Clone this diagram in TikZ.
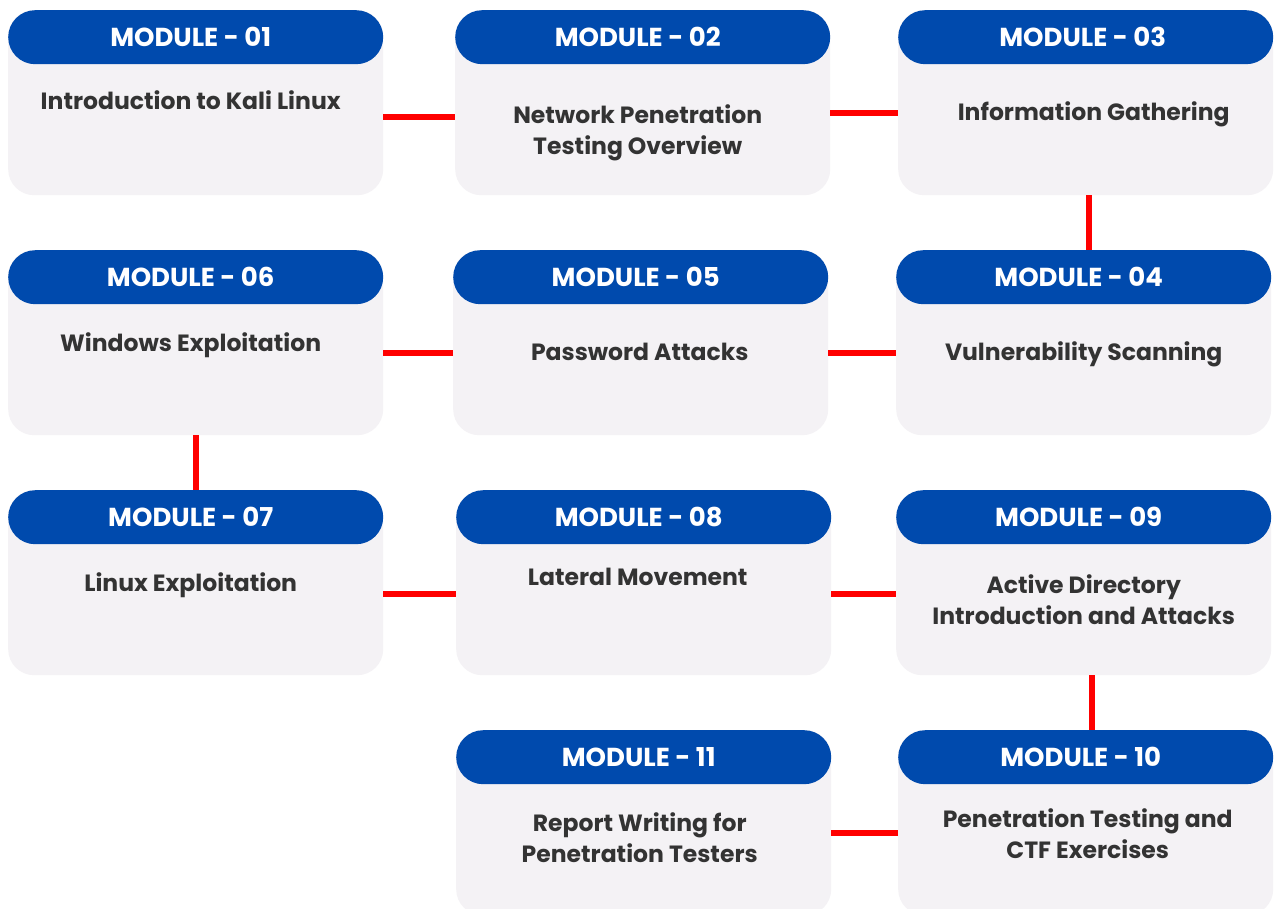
\documentclass[tikz,border=0pt]{standalone}
\usepackage{fontspec}
\setmainfont{Poppins}
\usepackage{tikz}
\usetikzlibrary{positioning}
\definecolor{hdblue}{HTML}{004AAD}
\definecolor{boxgray}{HTML}{F4F2F5}
\definecolor{txtgray}{HTML}{333333}
\definecolor{linkred}{HTML}{FF0000}

\begin{document}
\begin{tikzpicture}[x=1pt, y=-1pt]
\tikzstyle{body}=[fill=boxgray, rounded corners=26pt, minimum width=375pt, minimum height=185pt, anchor=north west, inner sep=0pt];
\tikzstyle{head}=[fill=hdblue, rounded corners=27pt, minimum width=375pt, minimum height=54pt, anchor=north west, inner sep=0pt];
\tikzstyle{headtext}=[text=white, inner sep=0pt, font=\bfseries\fontsize{26}{28}\selectfont];
\tikzstyle{modtext}=[align=center, text=txtgray, inner sep=0pt, font=\bfseries\fontsize{23.5}{31}\selectfont];
\tikzstyle{link}=[draw=linkred, line width=6pt];
\useasboundingbox (0,0) rectangle (1274,908);
\clip (0,0) rectangle (1274,908);
\fill[white] (0,0) rectangle (1274,908);
\path (8,10) node[body] (B1) {};
\path (455,10) node[body] (B2) {};
\path (898,10) node[body] (B3) {};
\path (8,250) node[body] (B6) {};
\path (453,250) node[body] (B5) {};
\path (896,250) node[body] (B4) {};
\path (8,490) node[body] (B7) {};
\path (456,490) node[body] (B8) {};
\path (896,490) node[body] (B9) {};
\path (456,730) node[body] (B11) {};
\path (898,730) node[body] (B10) {};
\path (B1.north west) node[head] (H1) {};
\path (B2.north west) node[head] (H2) {};
\path (B3.north west) node[head] (H3) {};
\path (B4.north west) node[head] (H4) {};
\path (B5.north west) node[head] (H5) {};
\path (B6.north west) node[head] (H6) {};
\path (B7.north west) node[head] (H7) {};
\path (B8.north west) node[head] (H8) {};
\path (B9.north west) node[head] (H9) {};
\path (B10.north west) node[head] (H10) {};
\path (B11.north west) node[head] (H11) {};
\path (H1.center) ++(-5,0) node[headtext] (N1) {MODULE - 01};
\path (H2.center) ++(-5,0) node[headtext] (N2) {MODULE - 02};
\path (H3.center) ++(-3,0) node[headtext] (N3) {MODULE - 03};
\path (H4.center) ++(-5,0) node[headtext] (N4) {MODULE - 04};
\path (H5.center) ++(-5,0) node[headtext] (N5) {MODULE - 05};
\path (H6.center) ++(-5,0) node[headtext] (N6) {MODULE - 06};
\path (H7.center) ++(-5,0) node[headtext] (N7) {MODULE - 07};
\path (H8.center) ++(-5,0) node[headtext] (N8) {MODULE - 08};
\path (H9.center) ++(-5,0) node[headtext] (N9) {MODULE - 09};
\path (H10.center) ++(-5,0) node[headtext] (N10) {MODULE - 10};
\path (H11.center) ++(-5,0) node[headtext] (N11) {MODULE - 11};
\path (B1.north) ++(-5,90) node[modtext] (T1) {Introduction to Kali Linux};
\path (B2.north) ++(-5,123) node[modtext] (T2) {Network Penetration\\Testing Overview};
\path (B3.north) ++(8,104) node[modtext] (T3) {Information Gathering};
\path (B4.north) ++(0,104) node[modtext] (T4) {Vulnerability Scanning};
\path (B5.north) ++(-1,102) node[modtext] (T5) {Password Attacks};
\path (B6.north) ++(-5,95) node[modtext] (T6) {Windows Exploitation};
\path (B7.north) ++(-5,95) node[modtext] (T7) {Linux Exploitation};
\path (B8.north) ++(-6,87) node[modtext] (T8) {Lateral Movement};
\path (B9.north) ++(0,110) node[modtext] (T9) {Active Directory\\Introduction and Attacks};
\path (B10.north) ++(2,104) node[modtext] (T10) {Penetration Testing and\\CTF Exercises};
\path (B11.north) ++(-4,108) node[modtext] (T11) {Report Writing for\\Penetration Testers};
\path[link] ([yshift=-14.5pt]B1.east) -- ([yshift=-14.5pt]B2.west);
\path[link] ([yshift=-10.5pt]B2.east) -- ([yshift=-10.5pt]B3.west);
\path[link] ([xshift=3.5pt]B3.south) -- ([xshift=3.5pt]B3.south |- H4.north);
\path[link] ([yshift=-10.5pt]B4.west) -- ([yshift=-10.5pt]B5.east);
\path[link] ([yshift=-10.5pt]B5.west) -- ([yshift=-10.5pt]B6.east);
\path[link] ([xshift=0.5pt]B6.south) -- ([xshift=0.5pt]B6.south |- H7.north);
\path[link] ([yshift=-11pt]B7.east) -- ([yshift=-11pt]B8.west);
\path[link] ([yshift=-11pt]B8.east) -- ([yshift=-11pt]B9.west);
\path[link] ([xshift=8.5pt]B9.south) -- ([xshift=8.5pt]B9.south |- H10.north);
\path[link] ([yshift=-10.5pt]B10.west) -- ([yshift=-10.5pt]B11.east);
\end{tikzpicture}
\end{document}
